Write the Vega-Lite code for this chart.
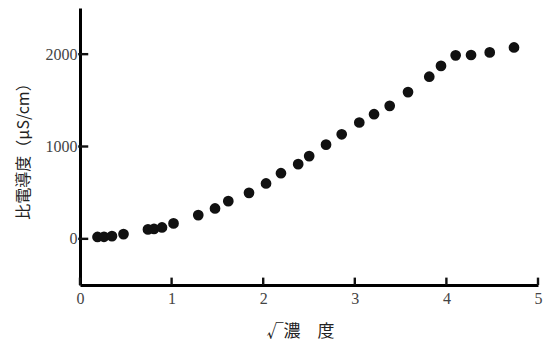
{
  "$schema": "https://vega.github.io/schema/vega-lite/v6.json",
  "autosize": "none",
  "width": 458,
  "height": 277,
  "padding": {"left": 80, "top": 8, "right": 13, "bottom": 57},
  "background": "white",
  "config": {"view": {"stroke": null}},
  "datasets": {
    "pts": [
      {"x": 0.191, "y": 20}, {"x": 0.262, "y": 22}, {"x": 0.349, "y": 29}, {"x": 0.475, "y": 51},
      {"x": 0.742, "y": 102}, {"x": 0.808, "y": 107}, {"x": 0.895, "y": 123}, {"x": 1.021, "y": 167},
      {"x": 1.291, "y": 257}, {"x": 1.474, "y": 329}, {"x": 1.619, "y": 408}, {"x": 1.845, "y": 498},
      {"x": 2.031, "y": 600}, {"x": 2.194, "y": 711}, {"x": 2.382, "y": 809}, {"x": 2.502, "y": 896},
      {"x": 2.686, "y": 1020}, {"x": 2.857, "y": 1132}, {"x": 3.049, "y": 1260}, {"x": 3.21, "y": 1350},
      {"x": 3.381, "y": 1440}, {"x": 3.581, "y": 1589}, {"x": 3.813, "y": 1756}, {"x": 3.941, "y": 1873},
      {"x": 4.101, "y": 1987}, {"x": 4.269, "y": 1991}, {"x": 4.473, "y": 2019}, {"x": 4.738, "y": 2073}
    ],
    "xticks": [{"v": 0}, {"v": 1}, {"v": 2}, {"v": 3}, {"v": 4}, {"v": 5}],
    "yticks": [{"v": 0}, {"v": 1000}, {"v": 2000}]
  },
  "resolve": {"axis": {"x": "independent", "y": "independent"}},
  "layer": [
    {
      "data": {"name": "pts"},
      "mark": {"type": "point", "filled": true, "color": "#111111", "opacity": 1, "size": 115},
      "encoding": {
        "x": {
          "field": "x", "type": "quantitative",
          "scale": {"domain": [0, 5], "nice": false, "zero": false},
          "axis": {
            "title": "√濃　度", "values": [0, 1, 2, 3, 4, 5], "format": "d", "grid": false, "ticks": false,
            "domainColor": "#000000", "domainWidth": 3, "domainOpacity": 1,
            "labelPadding": 5, "labelFont": "Liberation Sans Narrow", "labelFontSize": 16,
            "labelColor": "#444444", "labelFlush": false,
            "titleFont": "Noto Sans CJK JP", "titleFontSize": 17, "titleFontWeight": "normal", "titleColor": "#222222",
            "titleX": 220, "titleY": 46, "titleBaseline": "middle", "titleAlign": "center"
          }
        },
        "y": {
          "field": "y", "type": "quantitative",
          "scale": {"domain": [-500, 2500], "nice": false, "zero": false},
          "axis": {
            "title": "比電導度（μS/cm）", "values": [0, 1000, 2000], "format": "d", "grid": false, "ticks": false,
            "domainColor": "#000000", "domainWidth": 3, "domainOpacity": 1,
            "labelPadding": 3, "labelFont": "Liberation Sans Narrow", "labelFontSize": 16,
            "labelColor": "#444444", "labelFlush": false,
            "titleFont": "Noto Sans CJK JP", "titleFontSize": 16, "titleFontWeight": "normal", "titleColor": "#222222",
            "titleAngle": 270, "titleX": -57, "titleY": 139, "titleBaseline": "middle", "titleAlign": "center"
          }
        }
      }
    },
    {
      "data": {"name": "xticks"},
      "mark": {"type": "rule", "color": "#111111", "strokeWidth": 2.4},
      "encoding": {
        "x": {"field": "v", "type": "quantitative", "axis": null},
        "y": {"datum": -500, "axis": null},
        "y2": {"datum": -420}
      }
    },
    {
      "data": {"name": "yticks"},
      "mark": {"type": "rule", "color": "#111111", "strokeWidth": 2.4},
      "encoding": {
        "y": {"field": "v", "type": "quantitative", "axis": null},
        "x": {"datum": -0.02, "axis": null},
        "x2": {"datum": 0.09}
      }
    }
  ]
}
